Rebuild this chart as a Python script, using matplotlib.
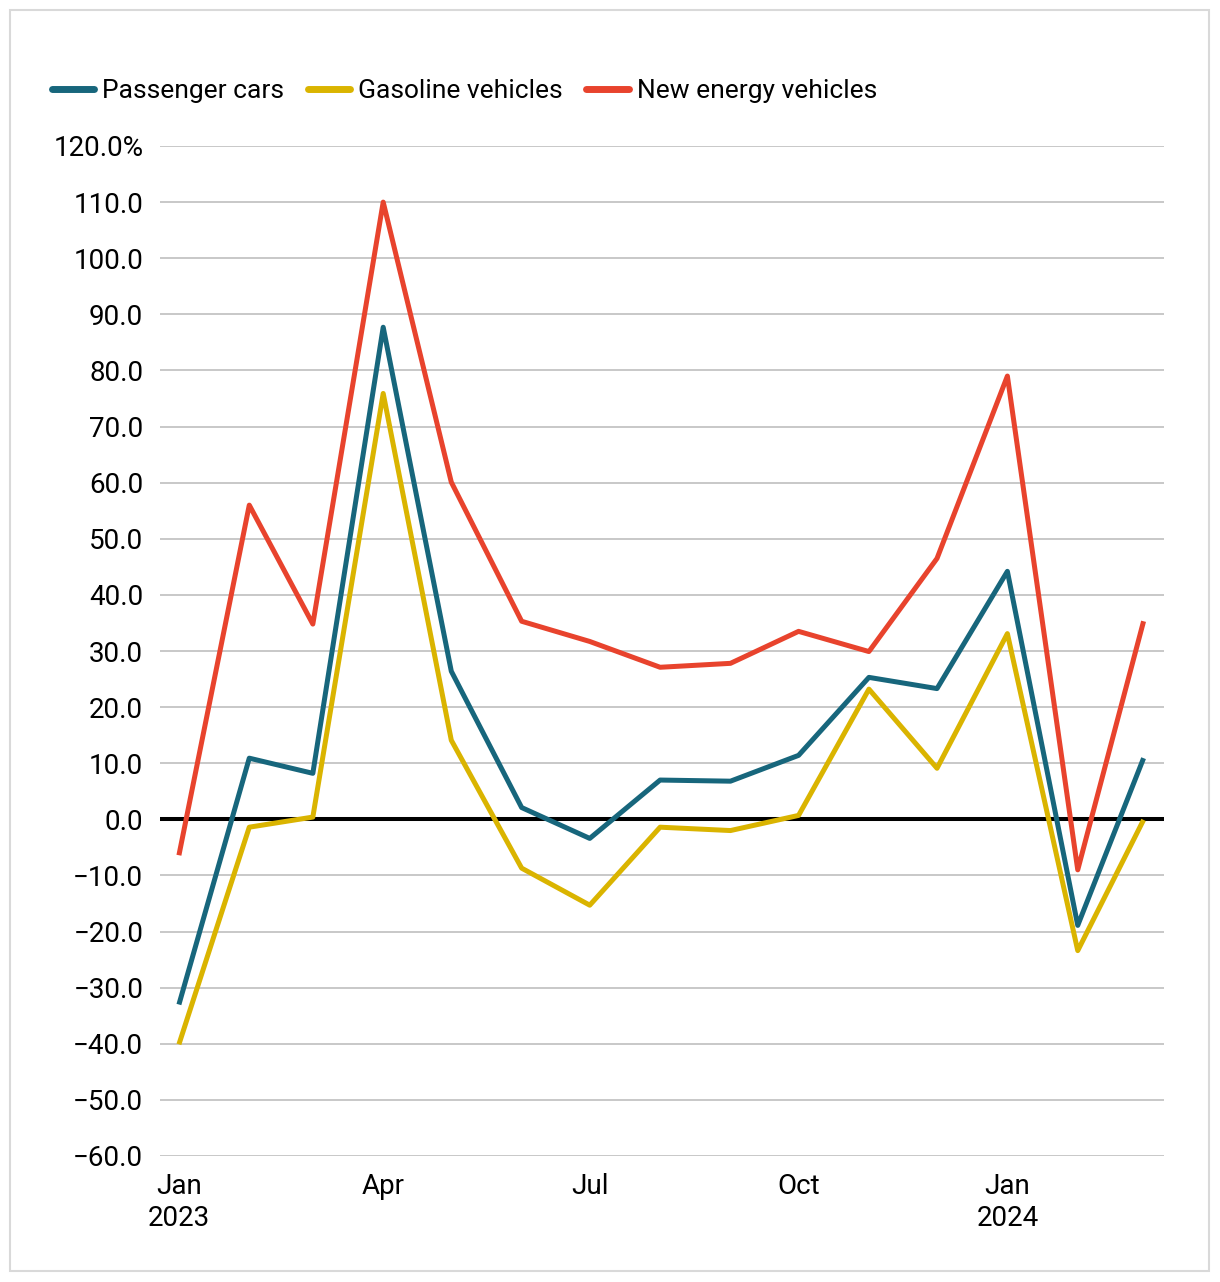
import matplotlib
matplotlib.use("Agg")
import matplotlib.pyplot as plt
import matplotlib.dates as mdates
from matplotlib.patches import Rectangle
import numpy as np

#------
#data (year-on-year growth, %)
months = np.arange("2023-01", "2024-04", dtype="datetime64[M]").astype("datetime64[D]")
passenger = [-33.0, 10.9, 8.2, 87.7, 26.4, 2.1, -3.4, 7.0, 6.8, 11.4, 25.3, 23.3, 44.2, -18.9, 10.9]
gasoline = [-40.1, -1.4, 0.4, 75.9, 14.1, -8.7, -15.3, -1.4, -2.0, 0.7, 23.2, 9.1, 33.1, -23.4, -0.1]
nev = [-6.4, 56.0, 34.8, 110.0, 60.1, 35.3, 31.7, 27.1, 27.8, 33.5, 29.9, 46.5, 79.0, -9.0, 35.3]

xtick_dates = np.array(["2023-01-01", "2023-04-01", "2023-07-01", "2023-10-01", "2024-01-01"],
                       dtype="datetime64[D]")
xtick_labels = ["Jan\n2023", "Apr", "Jul", "Oct", "Jan\n2024"]
yticks = list(range(-60, 121, 10))

#------
#style
plt.rcParams['font.family'] = ['Roboto', 'DejaVu Sans']
fs = 20
c_pass = "#17667C"
c_gas = "#DAB400"
c_nev = "#E8432D"

fig = plt.figure(figsize=(12.2, 12.82), dpi=100)
W, H = 1220, 1282
ax = fig.add_axes([160 / W, (H - 1156) / H, (1164 - 160) / W, (1156 - 146) / H])

#outer border
fig.patches.append(Rectangle((10 / W, 11 / H), 1199 / W, 1261 / H, transform=fig.transFigure,
                             fill=False, edgecolor="#d9d9d9", lw=1.5))

for y in yticks:
    if y != 0:
        ax.axhline(y, color="#c8c8c8", lw=1.4, zorder=1)
ax.axhline(0, color="black", lw=2.9, zorder=2)

for vals, col, lab in [(passenger, c_pass, "Passenger cars"),
                       (gasoline, c_gas, "Gasoline vehicles"),
                       (nev, c_nev, "New energy vehicles")]:
    ax.plot(months, vals, color=col, lw=3.6, label=lab, zorder=3,
            solid_capstyle="butt", solid_joinstyle="round")

ax.set_xlim(months[0] - np.timedelta64(8, "h") * 25, months[-1] + np.timedelta64(9, "D"))
ax.set_ylim(-60, 120)
ax.set_yticks(yticks)
ax.set_yticklabels([("%.1f%%" % v if v == 120 else "%.1f" % v).replace("-", "\u2212") for v in yticks])
ax.set_xticks(xtick_dates)
ax.set_xticklabels(xtick_labels, linespacing=1.25)
ax.tick_params(axis="both", length=0, labelsize=fs)
ax.tick_params(axis="y", pad=12)
ax.tick_params(axis="x", pad=12)
for s in ax.spines.values():
    s.set_visible(False)

leg = fig.legend(loc="center left", bbox_to_anchor=(52 / W, (H - 91) / H), ncol=3,
                 frameon=False, fontsize=19, handlelength=1.6, handletextpad=0.3,
                 columnspacing=0.9, borderpad=0, borderaxespad=0)
for ln in leg.get_lines():
    ln.set_linewidth(5)
    ln.set_solid_capstyle("round")

fig.savefig("out.png", dpi=100)
